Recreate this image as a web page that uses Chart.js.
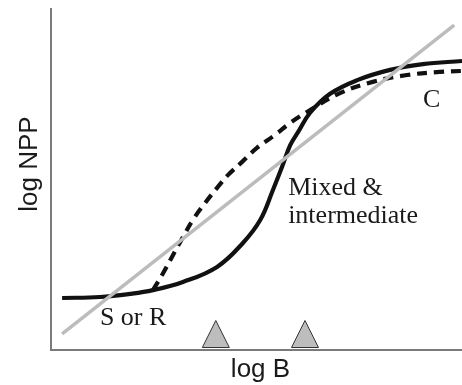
<!DOCTYPE html>
<html>
<head>
<meta charset="utf-8">
<script src="https://cdn.jsdelivr.net/npm/chart.js@4.4.1/dist/chart.umd.min.js"></script>
<style>
  html, body { margin: 0; padding: 0; background: #fff; }
  #wrap { width: 462px; height: 385px; }
</style>
</head>
<body>
<div id="wrap"><canvas id="c" width="462" height="385"></canvas></div>
<script>
// Abstract units: log B (x) and log NPP (y), each on a 0–100 scale
const solidX  = [2.7, 11.9, 19.2, 24.8, 32.1, 40.4, 46.7, 50.9, 54.0, 56.2, 58.2, 60.1, 63.0, 67.9, 74.5, 82.5, 90.5, 100];
const solidY  = [15.2, 15.5, 16.4, 17.5, 19.9, 24.3, 31.3, 38.0, 46.8, 53.5, 59.9, 63.7, 69.3, 74.9, 78.9, 81.9, 83.6, 84.5];
const dashedX = [24.8, 27.3, 29.7, 32.1, 34.5, 37.5, 40.4, 43.1, 46.5, 50.1, 54.5, 58.2, 62.3, 70.3, 78.3, 86.6, 94.6, 100];
const dashedY = [17.5, 22.5, 27.8, 33.0, 38.0, 43.0, 47.4, 51.2, 55.0, 59.1, 62.9, 66.4, 69.6, 75.1, 78.4, 80.4, 81.3, 81.6];
const greyX   = [2.7, 98.1];
const greyY   = [4.7, 95.0];
const triangleX = [40.1, 61.8];
const labels = [
  { text: "S or R", x: 11.9, y: 7.3 },
  { text: "Mixed &", x: 57.7, y: 45.3 },
  { text: "intermediate", x: 57.7, y: 37.1 },
  { text: "C", x: 90.5, y: 71.1 }
];
const xTitle = "log B";
const yTitle = "log NPP";

const pts = (xs, ys) => xs.map((x, i) => ({ x, y: ys[i] }));

const decor = {
  id: 'decor',
  afterDatasetsDraw(chart) {
    const { ctx, chartArea: a, scales: { x, y } } = chart;
    ctx.save();
    // triangles sitting on the x axis
    triangleX.forEach(v => {
      const cx = x.getPixelForValue(v);
      ctx.beginPath();
      ctx.moveTo(cx - 13.5, a.bottom - 2.5);
      ctx.lineTo(cx + 13.5, a.bottom - 2.5);
      ctx.lineTo(cx, a.bottom - 29.5);
      ctx.closePath();
      ctx.fillStyle = '#bdbdbd';
      ctx.fill();
      ctx.lineWidth = 1;
      ctx.strokeStyle = '#333';
      ctx.stroke();
    });
    // axes
    ctx.strokeStyle = '#7a7a7a';
    ctx.lineWidth = 2;
    ctx.beginPath();
    ctx.moveTo(a.left, a.top);
    ctx.lineTo(a.left, a.bottom);
    ctx.lineTo(a.right, a.bottom);
    ctx.stroke();
    // serif annotations
    ctx.fillStyle = '#1a1a1a';
    ctx.font = '26px "Liberation Serif", "Times New Roman", serif';
    ctx.textAlign = 'left';
    ctx.textBaseline = 'alphabetic';
    labels.forEach(l => ctx.fillText(l.text, x.getPixelForValue(l.x), y.getPixelForValue(l.y)));
    // axis titles
    ctx.font = '26px "Liberation Sans", Arial, sans-serif';
    ctx.textAlign = 'center';
    ctx.fillText(xTitle, (a.left + a.right) / 2 + 4, a.bottom + 27);
    ctx.translate(37, 164);
    ctx.rotate(-Math.PI / 2);
    ctx.fillText(yTitle, 0, 0);
    ctx.restore();
  }
};

new Chart(document.getElementById('c'), {
  type: 'scatter',
  data: {
    datasets: [
      { data: pts(greyX, greyY), showLine: true, borderColor: '#bcbcbc', borderWidth: 3.5, pointRadius: 0, tension: 0 },
      { data: pts(dashedX, dashedY), showLine: true, borderColor: '#111', borderWidth: 4.2, borderDash: [10, 7], pointRadius: 0, tension: 0.4 },
      { data: pts(solidX, solidY), showLine: true, borderColor: '#111', borderWidth: 4.2, pointRadius: 0, tension: 0.4 }
    ]
  },
  options: {
    responsive: false,
    animation: false,
    events: [],
    layout: { padding: { left: 51, right: 0, top: 8, bottom: 35 } },
    plugins: { legend: { display: false }, tooltip: { enabled: false } },
    scales: {
      x: { type: 'linear', min: 0, max: 100, display: false },
      y: { type: 'linear', min: 0, max: 100, display: false }
    }
  },
  plugins: [decor]
});
</script>
</body>
</html>
